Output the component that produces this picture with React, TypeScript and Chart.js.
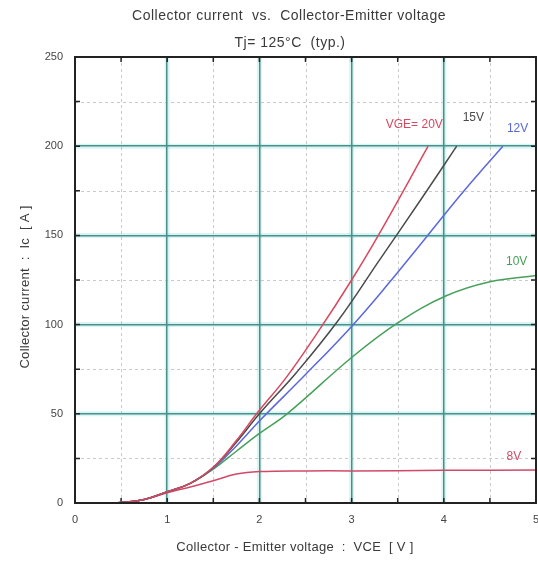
import React, { useEffect, useRef } from "react";
import { Chart, registerables } from "chart.js";

Chart.register(...registerables);

const vge20X = [0.36, 0.5, 0.75, 1.0, 1.25, 1.5, 1.75, 1.97, 2.3, 2.65, 3.0, 3.29, 3.83];
const vge20Y = [0, 0.3, 2, 6.3, 11, 20, 35, 50, 71, 97, 125, 150, 200];
const vge15X = [0.36, 0.5, 0.75, 1.0, 1.25, 1.5, 1.75, 2.0, 2.4, 2.85, 3.3, 3.75, 4.14];
const vge15Y = [0, 0.3, 2, 6.3, 11, 20, 34, 50, 73, 102, 136, 170, 200];
const vge12X = [0.36, 0.5, 0.75, 1.0, 1.25, 1.5, 1.75, 2.0, 2.5, 3.0, 3.4, 3.81, 4.22, 4.64];
const vge12Y = [0, 0.3, 2, 6.3, 11, 19.5, 32, 46, 72, 99, 123, 149, 175, 200];
const vge10X = [0.36, 0.5, 0.75, 1.0, 1.25, 1.5, 1.75, 2.0, 2.3, 3.01, 3.5, 4.02, 4.5, 5.0];
const vge10Y = [0, 0.3, 2, 6.3, 11, 19, 29, 39, 50, 82, 101, 116, 124, 127.5];
const vge8X = [0.36, 0.5, 0.75, 1.0, 1.25, 1.5, 1.75, 2.0, 2.5, 3.0, 4.0, 5.0];
const vge8Y = [0, 0.3, 2, 5.8, 9, 12.5, 16.2, 17.6, 18, 18, 18.3, 18.5];

const seriesNames = ["VGE= 20V", "15V", "12V", "10V", "8V"];
const seriesColors = ["#d8485e", "#4a4a4a", "#5a68dc", "#46a05a", "#d04a68"];
const labelX = [3.68, 4.32, 4.8, 4.79, 4.76];
const labelY = [212, 216, 210, 135, 26];

const xTicks = [0, 1, 2, 3, 4, 5];
const yTicks = [0, 50, 100, 150, 200, 250];

const titleText = "Collector current  vs.  Collector-Emitter voltage";
const subtitleText = "Tj= 125°C  (typ.)";
const xTitle = "Collector - Emitter voltage  :  VCE  [ V ]";
const yTitle = "Collector current  :  Ic  [ A ]";

const FONT = "'Liberation Sans', Arial, sans-serif";

function pts(xs: number[], ys: number[]) {
  return xs.map((x, i) => ({ x, y: ys[i] }));
}

const overlay = {
  id: "overlay",
  beforeDraw(chart: any) {
    const { ctx, chartArea: a, scales } = chart;
    ctx.save();
    ctx.strokeStyle = "rgba(120,215,215,0.28)";
    ctx.lineWidth = 5;
    for (let v = 1; v < 5; v += 1) {
      const px = scales.x.getPixelForValue(v);
      ctx.beginPath();
      ctx.moveTo(px, a.top);
      ctx.lineTo(px, a.bottom);
      ctx.stroke();
    }
    for (let v = 50; v < 250; v += 50) {
      const py = scales.y.getPixelForValue(v);
      ctx.beginPath();
      ctx.moveTo(a.left, py);
      ctx.lineTo(a.right, py);
      ctx.stroke();
    }
    ctx.restore();
  },
  beforeDatasetsDraw(chart: any) {
    const { ctx, chartArea: a, scales } = chart;
    const xs = scales.x;
    const ys = scales.y;
    ctx.save();
    ctx.strokeStyle = "rgba(150,150,150,0.5)";
    ctx.lineWidth = 1;
    ctx.setLineDash([3, 3]);
    for (let v = 0.5; v < 5; v += 1) {
      const px = Math.round(xs.getPixelForValue(v)) + 0.5;
      ctx.beginPath();
      ctx.moveTo(px, a.top);
      ctx.lineTo(px, a.bottom);
      ctx.stroke();
    }
    for (let v = 25; v < 250; v += 50) {
      const py = Math.round(ys.getPixelForValue(v)) + 0.5;
      ctx.beginPath();
      ctx.moveTo(a.left, py);
      ctx.lineTo(a.right, py);
      ctx.stroke();
    }
    ctx.setLineDash([]);
    ctx.strokeStyle = "#222";
    ctx.lineWidth = 1.5;
    for (let v = 0.5; v < 5; v += 0.5) {
      const px = xs.getPixelForValue(v);
      ctx.beginPath();
      ctx.moveTo(px, a.top);
      ctx.lineTo(px, a.top + 5);
      ctx.moveTo(px, a.bottom);
      ctx.lineTo(px, a.bottom - 5);
      ctx.stroke();
    }
    for (let v = 25; v < 250; v += 25) {
      const py = ys.getPixelForValue(v);
      ctx.beginPath();
      ctx.moveTo(a.left, py);
      ctx.lineTo(a.left + 5, py);
      ctx.moveTo(a.right, py);
      ctx.lineTo(a.right - 5, py);
      ctx.stroke();
    }
    ctx.restore();
  },
  afterDatasetsDraw(chart: any) {
    const { ctx, chartArea: a, scales } = chart;
    ctx.save();
    ctx.strokeStyle = "#222";
    ctx.lineWidth = 2;
    ctx.strokeRect(a.left, a.top, a.right - a.left, a.bottom - a.top);
    ctx.textAlign = "center";
    ctx.textBaseline = "middle";
    ctx.font = `12px ${FONT}`;
    seriesNames.forEach((n, i) => {
      ctx.fillStyle = seriesColors[i];
      ctx.fillText(n, scales.x.getPixelForValue(labelX[i]), scales.y.getPixelForValue(labelY[i]));
    });
    ctx.fillStyle = "#3a3a3a";
    try { (ctx as any).letterSpacing = "0.5px"; } catch (e) {}
    ctx.font = `14px ${FONT}`;
    ctx.fillText(titleText, 289, 16);
    ctx.fillText(subtitleText, 290, 43);
    try { (ctx as any).letterSpacing = "0.3px"; } catch (e) {}
    ctx.font = `13px ${FONT}`;
    ctx.fillText(xTitle, 295, 547);
    ctx.translate(25, 287);
    ctx.rotate(-Math.PI / 2);
    ctx.fillText(yTitle, 0, 0);
    ctx.restore();
  },
};

export default function App() {
  const ref = useRef<HTMLCanvasElement | null>(null);
  useEffect(() => {
    document.body.style.margin = "0";
    const canvas = ref.current!;
    const mk = (i: number, xs: number[], ys: number[]) => ({
      label: seriesNames[i],
      data: pts(xs, ys),
      borderColor: seriesColors[i],
      backgroundColor: seriesColors[i],
      borderWidth: 1.5,
      pointRadius: 0,
      showLine: true,
      tension: 0.4,
      fill: false,
    });
    const chart = new Chart(canvas, {
      type: "scatter",
      data: {
        datasets: [
          mk(0, vge20X, vge20Y),
          mk(1, vge15X, vge15Y),
          mk(2, vge12X, vge12Y),
          mk(3, vge10X, vge10Y),
          mk(4, vge8X, vge8Y),
        ],
      },
      options: {
        animation: false,
        responsive: false,
        layout: { padding: { left: 0, right: 2, top: 57, bottom: 0 } },
        plugins: { legend: { display: false }, tooltip: { enabled: false } },
        scales: {
          x: {
            type: "linear",
            min: 0,
            max: 5,
            afterFit: (s: any) => { s.height = 58; s.paddingLeft = 0; s.paddingRight = 0; },
            afterBuildTicks: (s: any) => { s.ticks = xTicks.map((v) => ({ value: v })); },
            ticks: { color: "#444", font: { size: 11, family: FONT }, padding: 10, maxRotation: 0 },
            grid: { color: "#4a9088", lineWidth: 1.5, drawTicks: false },
            border: { display: false },
            title: { display: false },
          },
          y: {
            type: "linear",
            min: 0,
            max: 250,
            afterFit: (s: any) => { s.width = 75; },
            afterBuildTicks: (s: any) => { s.ticks = yTicks.map((v) => ({ value: v })); },
            ticks: { color: "#444", font: { size: 11, family: FONT }, padding: 12 },
            grid: { color: "#4a9088", lineWidth: 1.5, drawTicks: false },
            border: { display: false },
            title: { display: false },
          },
        },
      },
      plugins: [overlay],
    });
    return () => chart.destroy();
  }, []);
  return <canvas ref={ref} width={538} height={561} style={{ display: "block" }} />;
}
